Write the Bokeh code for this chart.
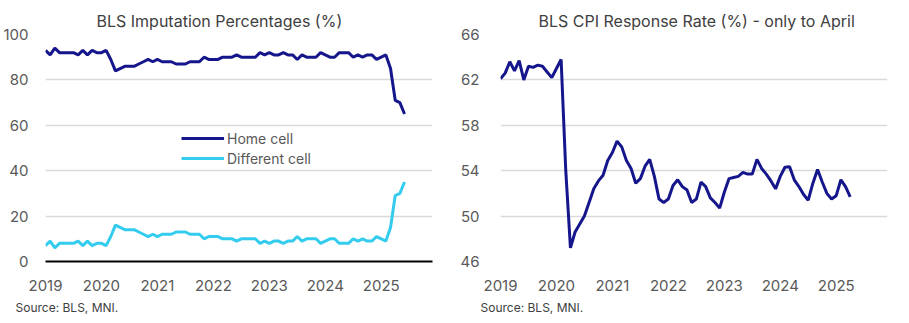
from bokeh.plotting import figure
from bokeh.layouts import row
from bokeh.models import Range1d, FixedTicker, Title, Legend, LegendItem
from bokeh.embed import file_html
from bokeh.resources import INLINE

# ---------------- data ----------------
years = [2019, 2020, 2021, 2022, 2023, 2024, 2025]
year_labels = ["2019", "2020", "2021", "2022", "2023", "2024", "2025"]

# monthly, Jan 2019 .. Jun 2025
home_cell = [93, 91, 94, 92, 92, 92, 92, 91, 93, 91, 93, 92,
             92, 93, 89, 84, 85, 86, 86, 86, 87, 88, 89, 88,
             89, 88, 88, 88, 87, 87, 87, 88, 88, 88, 90, 89,
             89, 89, 90, 90, 90, 91, 90, 90, 90, 90, 92, 91,
             92, 91, 91, 92, 91, 91, 89, 91, 90, 90, 90, 92,
             91, 90, 90, 92, 92, 92, 90, 91, 90, 91, 91, 89,
             90, 91, 85, 71, 70, 65]
different_cell = [7, 9, 6, 8, 8, 8, 8, 9, 7, 9, 7, 8,
                  8, 7, 11, 16, 15, 14, 14, 14, 13, 12, 11, 12,
                  11, 12, 12, 12, 13, 13, 13, 12, 12, 12, 10, 11,
                  11, 11, 10, 10, 10, 9, 10, 10, 10, 10, 8, 9,
                  8, 9, 9, 8, 9, 9, 11, 9, 10, 10, 10, 8,
                  9, 10, 10, 8, 8, 8, 10, 9, 10, 9, 9, 11,
                  10, 9, 15, 29, 30, 35]

# monthly, Jan 2019 .. Apr 2025
response_rate = [62.1, 62.6, 63.6, 62.8, 63.7, 62.0, 63.2, 63.1, 63.3, 63.2, 62.7, 62.2,
                 63.0, 63.8, 54.0, 47.2, 48.6, 49.3, 50.0, 51.2, 52.4, 53.1, 53.6, 54.9,
                 55.6, 56.6, 56.1, 54.9, 54.2, 52.9, 53.3, 54.4, 55.0, 53.5, 51.5, 51.2,
                 51.5, 52.7, 53.2, 52.6, 52.3, 51.2, 51.5, 53.0, 52.6, 51.6, 51.2, 50.7,
                 52.1, 53.3, 53.4, 53.5, 53.85, 53.7, 53.7, 55.0, 54.2, 53.7, 53.1, 52.4,
                 53.5, 54.3, 54.35, 53.2, 52.6, 51.9, 51.4, 52.9, 54.1, 53.0, 52.0, 51.5,
                 51.8, 53.2, 52.6, 51.7]

left_ticks = [0, 20, 40, 60, 80, 100]
right_ticks = [46, 50, 54, 58, 62, 66]

left_title = "BLS Imputation Percentages (%)"
right_title = "BLS CPI Response Rate (%) - only to April"
source_text = "Source: BLS, MNI."

# ---------------- style ----------------
NAVY = "#16168c"
CYAN = "#33ccee"
GRID = "#d9d9d9"
TXT = "#595959"
FONT = "Inter"

x_left = [2019 + i / 12 for i in range(len(home_cell))]
x_right = [2019 + i / 12 for i in range(len(response_rate))]


def style(p, yticks):
    p.outline_line_color = None
    p.background_fill_color = "white"
    p.border_fill_color = "white"
    p.xgrid.grid_line_color = None
    p.ygrid.grid_line_color = GRID
    p.ygrid.grid_line_width = 1.5
    p.xaxis.ticker = FixedTicker(ticks=years)
    p.xaxis.major_label_overrides = {y: l for y, l in zip(years, year_labels)}
    p.yaxis.ticker = FixedTicker(ticks=yticks)
    for ax in (p.xaxis[0], p.yaxis[0]):
        ax.major_tick_line_color = None
        ax.minor_tick_line_color = None
        ax.major_label_text_color = TXT
        ax.major_label_text_font = FONT
        ax.major_label_text_font_size = "15px"
    p.yaxis.axis_line_color = None
    p.xaxis.major_label_standoff = 12
    p.yaxis.major_label_standoff = 11


def add_titles(p, top_text, top_offset, src_offset):
    t = Title(text=top_text, align="left", offset=top_offset, standoff=8,
              text_font=FONT, text_font_size="16px", text_font_style="normal",
              text_color="#404040")
    p.add_layout(t, "above")
    s = Title(text=source_text, align="left", offset=src_offset, standoff=8,
              text_font=FONT, text_font_size="12px", text_font_style="normal",
              text_color="#404040")
    p.add_layout(s, "below")


# ---------------- left chart ----------------
p1 = figure(width=454, height=323, output_backend="svg", toolbar_location=None,
            x_range=Range1d(2019, 2019 + 83 / 12), y_range=Range1d(0, 100),
            min_border_left=44, min_border_right=22, min_border_top=34, min_border_bottom=62)
style(p1, left_ticks)
p1.xaxis.axis_line_color = "black"
p1.xaxis.axis_line_width = 2
r_home = p1.line(x_left, home_cell, line_color=NAVY, line_width=3)
r_diff = p1.line(x_left, different_cell, line_color=CYAN, line_width=3)
leg = Legend(items=[LegendItem(label="Home cell", renderers=[r_home]),
                    LegendItem(label="Different cell", renderers=[r_diff])],
             location=(136, 93), glyph_width=43, glyph_height=20, label_height=20,
             label_standoff=3, spacing=0, padding=0, margin=0,
             border_line_color=None, background_fill_alpha=0,
             label_text_font=FONT, label_text_font_size="14px", label_text_color=TXT)
p1.add_layout(leg)
add_titles(p1, left_title, 51, -30)

# ---------------- right chart ----------------
p2 = figure(width=455, height=323, output_backend="svg", toolbar_location=None,
            x_range=Range1d(2019, 2019 + 83 / 12), y_range=Range1d(46, 66),
            min_border_left=46, min_border_right=22, min_border_top=34, min_border_bottom=62)
style(p2, right_ticks)
p2.xaxis.axis_line_color = None
p2.yaxis.major_label_standoff = 15
p2.line(x_right, response_rate, line_color=NAVY, line_width=3)
add_titles(p2, right_title, 38, -20)

layout = row(p1, p2)
open("out.html", "w").write(file_html(layout, INLINE))
